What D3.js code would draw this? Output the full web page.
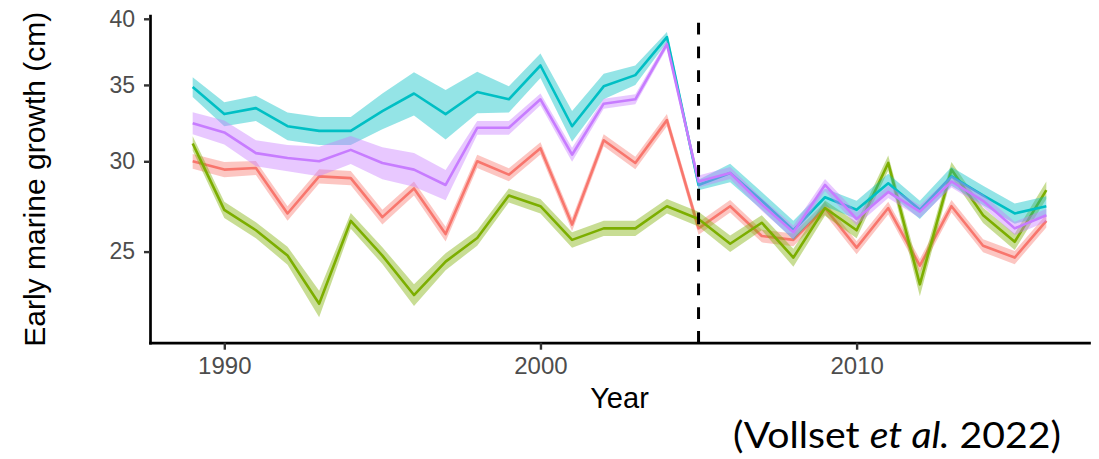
<!DOCTYPE html>
<html>
<head>
<meta charset="utf-8">
<script src="https://cdn.jsdelivr.net/npm/d3@7/dist/d3.min.js"></script>
<style>
  body { margin: 0; background: #fff; }
  svg { display: block; }
</style>
</head>
<body>
<svg id="chart" width="1099" height="459"></svg>
<script>
// Survey years
const years = [1989, 1990, 1991, 1992, 1993, 1994, 1995, 1996, 1997, 1998,
               1999, 2000, 2001, 2002, 2003, 2004, 2005, 2006, 2007, 2008,
               2009, 2010, 2011, 2012, 2013, 2014, 2015, 2016];

// Estimated early marine growth (cm) per group
const growthRed    = [30.0, 29.5, 29.6, 27.0, 29.1, 29.0, 26.8, 28.4, 25.9, 30.0,
                      29.2, 30.8, 26.4, 31.3, 29.9, 32.6, 26.2, 27.4, 25.8, 25.6,
                      27.3, 25.2, 27.3, 24.3, 27.4, 25.3, 24.7, 26.6];
const growthGreen  = [31.1, 27.2, 26.1, 24.8, 22.5, 26.6, 24.8, 22.9, 24.5, 25.7,
                      28.0, 27.4, 25.6, 26.2, 26.2, 27.4, 26.7, 25.4, 26.5, 24.7,
                      27.3, 26.1, 29.9, 23.4, 29.5, 26.9, 25.5, 28.3];
const growthCyan   = [34.85, 33.0, 33.4, 32.2, 31.9, 31.9, 33.2, 34.4, 33.0, 34.5,
                      34.0, 36.4, 32.2, 34.9, 35.7, 38.55, 28.6, 29.3, 27.7, 26.1,
                      27.9, 27.2, 28.7, 27.2, 29.1, 28.0, 27.0, 27.4];
const growthPurple = [32.4, 31.8, 30.5, 30.2, 30.0, 30.7, 29.9, 29.5, 28.6, 32.1,
                      32.1, 34.0, 30.4, 33.7, 34.0, 38.0, 28.8, 29.3, 27.5, 26.0,
                      28.6, 26.7, 28.2, 27.1, 28.8, 27.7, 26.2, 26.9];

// Half-width of the confidence band (cm)
const ciRed    = [0.45, 0.45, 0.42, 0.4, 0.42, 0.42, 0.4, 0.4, 0.38, 0.4,
                  0.38, 0.38, 0.35, 0.38, 0.38, 0.4, 0.33, 0.35, 0.33, 0.33,
                  0.35, 0.33, 0.35, 0.33, 0.35, 0.33, 0.33, 0.35];
const ciGreen  = [0.45, 0.45, 0.42, 0.45, 0.6, 0.42, 0.42, 0.5, 0.42, 0.4,
                  0.4, 0.4, 0.4, 0.4, 0.4, 0.4, 0.4, 0.42, 0.4, 0.45,
                  0.42, 0.42, 0.45, 0.55, 0.45, 0.42, 0.42, 0.5];
const ciCyan   = [0.7, 0.8, 0.85, 0.9, 0.9, 0.9, 1.2, 1.5, 1.65, 1.45,
                  0.9, 0.9, 1.0, 0.9, 0.7, 0.4, 0.3, 0.55, 0.5, 0.5,
                  0.5, 0.5, 0.55, 0.5, 0.55, 0.55, 0.55, 0.55];
const ciPurple = [0.72, 0.77, 0.8, 0.8, 0.9, 0.87, 0.97, 1.0, 0.87, 0.45,
                  0.45, 0.4, 0.43, 0.34, 0.34, 0.3, 0.35, 0.35, 0.35, 0.35,
                  0.35, 0.35, 0.35, 0.35, 0.35, 0.35, 0.35, 0.35];

const yTicks = [25, 30, 35, 40];
const xTicks = [1990, 2000, 2010];
const breakYear = 2005;

const groups = [
  { values: growthRed,    ci: ciRed,    color: "#F8766D" },
  { values: growthGreen,  ci: ciGreen,  color: "#7CAE00" },
  { values: growthCyan,   ci: ciCyan,   color: "#00BFC4" },
  { values: growthPurple, ci: ciPurple, color: "#C77CFF" }
];

const svg = d3.select("#chart");
const plotLeft = 150, plotRight = 1089, plotTop = 15.7, plotBottom = 342.7;

// x domain padded by 5% of the year span on each side
const span = d3.max(years) - d3.min(years);
const x = d3.scaleLinear()
  .domain([d3.min(years) - span * 0.05, d3.max(years) + span * 0.05])
  .range([plotLeft, plotRight]);

const y = d3.scaleLog()
  .domain([20.8, 40.25])
  .range([plotBottom, plotTop]);

// Confidence bands and mean lines, one group at a time
groups.forEach(g => {
  const rows = years.map((yr, i) => ({ yr, v: g.values[i], ci: g.ci[i] }));
  svg.append("path")
    .datum(rows)
    .attr("fill", g.color)
    .attr("fill-opacity", 0.42)
    .attr("d", d3.area()
      .x(d => x(d.yr))
      .y0(d => y(d.v - d.ci))
      .y1(d => y(d.v + d.ci)));
  svg.append("path")
    .datum(rows)
    .attr("fill", "none")
    .attr("stroke", g.color)
    .attr("stroke-width", 2.6)
    .attr("stroke-linejoin", "round")
    .attr("d", d3.line().x(d => x(d.yr)).y(d => y(d.v)));
});

// Vertical reference line, dashed from the x axis upward
svg.append("line")
  .attr("x1", x(breakYear)).attr("x2", x(breakYear))
  .attr("y1", plotBottom).attr("y2", plotTop)
  .attr("stroke", "#000")
  .attr("stroke-width", 3)
  .attr("stroke-dasharray", "11.8,11.9");

// Axes
const yAxis = svg.append("g")
  .attr("transform", `translate(${plotLeft},0)`)
  .call(d3.axisLeft(y).tickValues(yTicks).tickFormat(d3.format("d"))
    .tickSize(6).tickSizeOuter(0).tickPadding(9));
const xAxis = svg.append("g")
  .attr("transform", `translate(0,${plotBottom})`)
  .call(d3.axisBottom(x).tickValues(xTicks).tickFormat(d3.format("d"))
    .tickSize(7).tickSizeOuter(0).tickPadding(7));

[yAxis, xAxis].forEach(ax => {
  ax.select(".domain").attr("stroke", "#000").attr("stroke-width", 2.7)
    .attr("stroke-linecap", "square");
  ax.selectAll(".tick line").attr("stroke", "#333").attr("stroke-width", 2.4);
  ax.selectAll(".tick text")
    .attr("fill", "#4d4d4d")
    .style("font-family", "'Liberation Sans', Arial, sans-serif");
});
yAxis.selectAll(".tick text").style("font-size", "23px");
xAxis.selectAll(".tick text").style("font-size", "24px");

// Axis titles
svg.append("text")
  .attr("x", (plotLeft + plotRight) / 2).attr("y", 408)
  .attr("text-anchor", "middle")
  .style("font-family", "'Liberation Sans', Arial, sans-serif")
  .style("font-size", "29px")
  .attr("fill", "#000")
  .text("Year");

svg.append("text")
  .attr("transform", `translate(45,${(plotTop + plotBottom) / 2}) rotate(-90)`)
  .attr("text-anchor", "middle")
  .style("font-family", "'Liberation Sans', Arial, sans-serif")
  .style("font-size", "30px")
  .attr("fill", "#000")
  .text("Early marine growth (cm)");

// Source note, fitted to its slot width
const note = svg.append("text")
  .attr("x", 0).attr("y", 0)
  .style("font-family", "Lato, 'Open Sans', sans-serif")
  .style("font-size", "37px")
  .attr("fill", "#000");
note.append("tspan").text("(Vollset ");
note.append("tspan").style("font-style", "italic").text("et al.");
note.append("tspan").text(" 2022)");
const noteWidth = note.node().getComputedTextLength();
note.attr("transform", `translate(733,447.5) scale(${328 / noteWidth},1)`);
</script>
</body>
</html>
